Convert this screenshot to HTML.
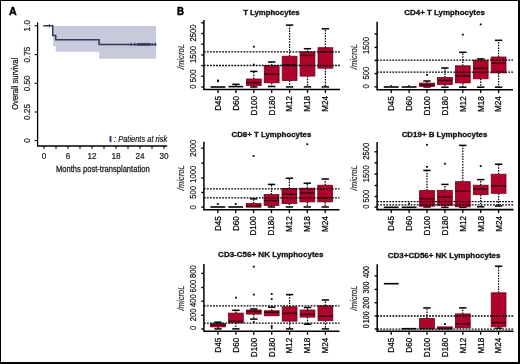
<!DOCTYPE html>
<html><head><meta charset="utf-8"><style>
html,body{margin:0;padding:0;background:#fff;}
svg{display:block;will-change:transform;}
text{font-family:"Liberation Sans", sans-serif;}
</style></head><body>
<svg width="520" height="364" viewBox="0 0 520 364" font-family='"Liberation Sans", sans-serif'>
<rect x="0" y="0" width="520" height="364" fill="#fff"/>
<text x="8.9" y="14.7" font-size="10.8" font-weight="bold" textLength="7.7" lengthAdjust="spacingAndGlyphs" stroke="#000" stroke-width="0.45">A</text>
<path d="M53,25.9 H156 V58.8 H99.2 V51.8 H55.7 V46 H53 Z" fill="#c9c9dc"/>
<path d="M37.6,22.6 V146 H167.2" fill="none" stroke="#000" stroke-width="1.3"/>
<path d="M34.6,25.7 H37.6" stroke="#000" stroke-width="1.1"/>
<text x="30.4" y="25.7" font-size="8.2" text-anchor="middle" fill="#222" stroke="#222" stroke-width="0.22" transform="rotate(-90 30.4 25.7)">1.0</text>
<path d="M34.6,54.6 H37.6" stroke="#000" stroke-width="1.1"/>
<text x="30.4" y="54.6" font-size="8.2" text-anchor="middle" fill="#222" stroke="#222" stroke-width="0.22" transform="rotate(-90 30.4 54.6)">0.75</text>
<path d="M34.6,83.3 H37.6" stroke="#000" stroke-width="1.1"/>
<text x="30.4" y="83.3" font-size="8.2" text-anchor="middle" fill="#222" stroke="#222" stroke-width="0.22" transform="rotate(-90 30.4 83.3)">0.50</text>
<path d="M34.6,112.0 H37.6" stroke="#000" stroke-width="1.1"/>
<text x="30.4" y="112.0" font-size="8.2" text-anchor="middle" fill="#222" stroke="#222" stroke-width="0.22" transform="rotate(-90 30.4 112.0)">0.25</text>
<path d="M34.6,140.5 H37.6" stroke="#000" stroke-width="1.1"/>
<text x="30.4" y="140.5" font-size="8.2" text-anchor="middle" fill="#222" stroke="#222" stroke-width="0.22" transform="rotate(-90 30.4 140.5)">0</text>
<path d="M44,146 V148.8" stroke="#000" stroke-width="1.1"/>
<path d="M56,146 V148.8" stroke="#000" stroke-width="1.1"/>
<path d="M68,146 V148.8" stroke="#000" stroke-width="1.1"/>
<path d="M80,146 V148.8" stroke="#000" stroke-width="1.1"/>
<path d="M92,146 V148.8" stroke="#000" stroke-width="1.1"/>
<path d="M104,146 V148.8" stroke="#000" stroke-width="1.1"/>
<path d="M116,146 V148.8" stroke="#000" stroke-width="1.1"/>
<path d="M128,146 V148.8" stroke="#000" stroke-width="1.1"/>
<path d="M140,146 V148.8" stroke="#000" stroke-width="1.1"/>
<path d="M152,146 V148.8" stroke="#000" stroke-width="1.1"/>
<path d="M164,146 V148.8" stroke="#000" stroke-width="1.1"/>
<text x="44" y="158.8" font-size="8.2" text-anchor="middle" fill="#222" stroke="#222" stroke-width="0.22">0</text>
<text x="68" y="158.8" font-size="8.2" text-anchor="middle" fill="#222" stroke="#222" stroke-width="0.22">6</text>
<text x="92" y="158.8" font-size="8.2" text-anchor="middle" fill="#222" stroke="#222" stroke-width="0.22">12</text>
<text x="116" y="158.8" font-size="8.2" text-anchor="middle" fill="#222" stroke="#222" stroke-width="0.22">18</text>
<text x="140" y="158.8" font-size="8.2" text-anchor="middle" fill="#222" stroke="#222" stroke-width="0.22">24</text>
<text x="164" y="158.8" font-size="8.2" text-anchor="middle" fill="#222" stroke="#222" stroke-width="0.22">30</text>
<text x="102.8" y="171.6" font-size="9.4" text-anchor="middle" fill="#222" stroke="#222" stroke-width="0.3" textLength="93.8" lengthAdjust="spacingAndGlyphs">Months post-transplantation</text>
<text x="18.3" y="83.8" font-size="9.4" text-anchor="middle" fill="#222" stroke="#222" stroke-width="0.3" textLength="52.0" lengthAdjust="spacingAndGlyphs" transform="rotate(-90 18.3 83.8)">Overall survival</text>
<path d="M43.2,25.7 H52.7 V35.4 H55.7 V39.8 H99.1 V44.4 H156.4" fill="none" stroke="#2d3a5c" stroke-width="1.5"/>
<path d="M49.4,23.9 V27.5" stroke="#2d3a5c" stroke-width="0.9"/>
<path d="M131,42.6 V46.2" stroke="#2d3a5c" stroke-width="0.9"/>
<path d="M134.8,42.6 V46.2" stroke="#2d3a5c" stroke-width="0.9"/>
<path d="M155.6,42.6 V46.2" stroke="#2d3a5c" stroke-width="0.9"/>
<path d="M137,44.4 H150.5" stroke="#2d3a5c" stroke-width="2.6"/>
<path d="M152.3,43.0 V45.8" stroke="#2d3a5c" stroke-width="0.8"/>
<rect x="109.6" y="136.0" width="1.8" height="6.2" fill="#24325e"/>
<text x="114" y="141.8" font-size="8.3" text-anchor="start" font-style="italic" fill="#222" stroke="#222" stroke-width="0.22" textLength="53.2" lengthAdjust="spacingAndGlyphs">: Patients at risk</text>
<text x="177.1" y="14.8" font-size="10.8" text-anchor="start" font-weight="bold" stroke="#000" stroke-width="0.45" textLength="7.0" lengthAdjust="spacingAndGlyphs">B</text>
<text x="271.4" y="15.2" font-size="7.9" text-anchor="middle" font-weight="bold" fill="#111" stroke="#111" stroke-width="0.3" textLength="56.5" lengthAdjust="spacingAndGlyphs">T Lymphocytes</text>
<path d="M203.9,20.0 V89.5" fill="none" stroke="#000" stroke-width="1.5"/>
<path d="M203.20000000000002,89.5 H340" fill="none" stroke="#000" stroke-width="1.6"/>
<path d="M201.3,87.0 H203.9" stroke="#000" stroke-width="1.4"/>
<text x="196.1" y="86.5" font-size="8.5" text-anchor="middle" fill="#111" stroke="#111" stroke-width="0.22" textLength="4.25" lengthAdjust="spacingAndGlyphs" transform="rotate(-90 196.1 86.5)">0</text>
<path d="M201.3,76.3 H203.9" stroke="#000" stroke-width="1.4"/>
<text x="196.1" y="75.8" font-size="8.5" text-anchor="middle" fill="#111" stroke="#111" stroke-width="0.22" textLength="12.75" lengthAdjust="spacingAndGlyphs" transform="rotate(-90 196.1 75.8)">500</text>
<path d="M201.3,65.6 H203.9" stroke="#000" stroke-width="1.4"/>
<path d="M201.3,54.9 H203.9" stroke="#000" stroke-width="1.4"/>
<text x="196.1" y="54.4" font-size="8.5" text-anchor="middle" fill="#111" stroke="#111" stroke-width="0.22" textLength="17.0" lengthAdjust="spacingAndGlyphs" transform="rotate(-90 196.1 54.4)">1500</text>
<path d="M201.3,44.2 H203.9" stroke="#000" stroke-width="1.4"/>
<path d="M201.3,33.5 H203.9" stroke="#000" stroke-width="1.4"/>
<text x="196.1" y="33.0" font-size="8.5" text-anchor="middle" fill="#111" stroke="#111" stroke-width="0.22" textLength="17.0" lengthAdjust="spacingAndGlyphs" transform="rotate(-90 196.1 33.0)">2500</text>
<path d="M201.3,22.8 H203.9" stroke="#000" stroke-width="1.4"/>
<text x="183.9" y="56.6" font-size="8.4" text-anchor="middle" font-style="italic" fill="#333" stroke="#333" stroke-width="0.22" textLength="25.2" lengthAdjust="spacingAndGlyphs" transform="rotate(-90 183.9 56.6)">/microL</text>
<path d="M218.0,89.5 V92.9" stroke="#000" stroke-width="1.3"/>
<text x="220.9" y="95.9" font-size="8.6" text-anchor="end" stroke="#000" stroke-width="0.22" textLength="14.95" lengthAdjust="spacingAndGlyphs" transform="rotate(-90 220.9 95.9)">D45</text>
<path d="M235.9,89.5 V92.9" stroke="#000" stroke-width="1.3"/>
<text x="238.8" y="95.9" font-size="8.6" text-anchor="end" stroke="#000" stroke-width="0.22" textLength="14.95" lengthAdjust="spacingAndGlyphs" transform="rotate(-90 238.8 95.9)">D60</text>
<path d="M253.8,89.5 V92.9" stroke="#000" stroke-width="1.3"/>
<text x="256.7" y="95.9" font-size="8.6" text-anchor="end" stroke="#000" stroke-width="0.22" textLength="19.48" lengthAdjust="spacingAndGlyphs" transform="rotate(-90 256.7 95.9)">D100</text>
<path d="M271.7,89.5 V92.9" stroke="#000" stroke-width="1.3"/>
<text x="274.59999999999997" y="95.9" font-size="8.6" text-anchor="end" stroke="#000" stroke-width="0.22" textLength="19.48" lengthAdjust="spacingAndGlyphs" transform="rotate(-90 274.59999999999997 95.9)">D180</text>
<path d="M289.6,89.5 V92.9" stroke="#000" stroke-width="1.3"/>
<text x="292.5" y="95.9" font-size="8.6" text-anchor="end" stroke="#000" stroke-width="0.22" textLength="15.85" lengthAdjust="spacingAndGlyphs" transform="rotate(-90 292.5 95.9)">M12</text>
<path d="M307.5,89.5 V92.9" stroke="#000" stroke-width="1.3"/>
<text x="310.4" y="95.9" font-size="8.6" text-anchor="end" stroke="#000" stroke-width="0.22" textLength="15.85" lengthAdjust="spacingAndGlyphs" transform="rotate(-90 310.4 95.9)">M18</text>
<path d="M325.4,89.5 V92.9" stroke="#000" stroke-width="1.3"/>
<text x="328.29999999999995" y="95.9" font-size="8.6" text-anchor="end" stroke="#000" stroke-width="0.22" textLength="15.85" lengthAdjust="spacingAndGlyphs" transform="rotate(-90 328.29999999999995 95.9)">M24</text>
<path d="M210.6,87.0 H225.4" stroke="#000" stroke-width="1.6"/>
<path d="M235.9,86.0 V84.3" stroke="#000" stroke-width="1.25" stroke-dasharray="1.5,1.2"/>
<path d="M232.20000000000002,84.3 H239.6" stroke="#000" stroke-width="1.5"/>
<path d="M228.5,86.6 H243.3" stroke="#000" stroke-width="1.6"/>
<path d="M253.8,79.0 V71.4" stroke="#000" stroke-width="1.25" stroke-dasharray="1.5,1.2"/>
<path d="M250.10000000000002,71.4 H257.5" stroke="#000" stroke-width="1.5"/>
<path d="M253.8,85.5 V87.0" stroke="#000" stroke-width="1.25" stroke-dasharray="1.5,1.2"/>
<path d="M250.10000000000002,87.0 H257.5" stroke="#000" stroke-width="1.5"/>
<rect x="246.4" y="79.0" width="14.8" height="6.5" fill="#ae032b" stroke="#6e0419" stroke-width="0.8"/>
<path d="M246.4,82.6 H261.2" stroke="#3c000e" stroke-width="1.5"/>
<path d="M271.7,65.5 V62.0" stroke="#000" stroke-width="1.25" stroke-dasharray="1.5,1.2"/>
<path d="M268.0,62.0 H275.4" stroke="#000" stroke-width="1.5"/>
<path d="M271.7,82.8 V86.5" stroke="#000" stroke-width="1.25" stroke-dasharray="1.5,1.2"/>
<path d="M268.0,86.5 H275.4" stroke="#000" stroke-width="1.5"/>
<rect x="264.3" y="65.5" width="14.8" height="17.299999999999997" fill="#ae032b" stroke="#6e0419" stroke-width="0.8"/>
<path d="M264.3,74.1 H279.09999999999997" stroke="#3c000e" stroke-width="1.5"/>
<path d="M289.6,56.2 V25.1" stroke="#000" stroke-width="1.25" stroke-dasharray="1.5,1.2"/>
<path d="M285.90000000000003,25.1 H293.3" stroke="#000" stroke-width="1.5"/>
<path d="M289.6,80.5 V86.9" stroke="#000" stroke-width="1.25" stroke-dasharray="1.5,1.2"/>
<path d="M285.90000000000003,86.9 H293.3" stroke="#000" stroke-width="1.5"/>
<rect x="282.20000000000005" y="56.2" width="14.8" height="24.299999999999997" fill="#ae032b" stroke="#6e0419" stroke-width="0.8"/>
<path d="M282.20000000000005,64.9 H297.0" stroke="#3c000e" stroke-width="1.5"/>
<path d="M307.5,51.9 V48.7" stroke="#000" stroke-width="1.25" stroke-dasharray="1.5,1.2"/>
<path d="M303.8,48.7 H311.2" stroke="#000" stroke-width="1.5"/>
<path d="M307.5,76.1 V86.9" stroke="#000" stroke-width="1.25" stroke-dasharray="1.5,1.2"/>
<path d="M303.8,86.9 H311.2" stroke="#000" stroke-width="1.5"/>
<rect x="300.1" y="51.9" width="14.8" height="24.199999999999996" fill="#ae032b" stroke="#6e0419" stroke-width="0.8"/>
<path d="M300.1,55.4 H314.9" stroke="#3c000e" stroke-width="1.5"/>
<path d="M325.4,47.7 V28.8" stroke="#000" stroke-width="1.25" stroke-dasharray="1.5,1.2"/>
<path d="M321.7,28.8 H329.09999999999997" stroke="#000" stroke-width="1.5"/>
<path d="M325.4,68.2 V86.9" stroke="#000" stroke-width="1.25" stroke-dasharray="1.5,1.2"/>
<path d="M321.7,86.9 H329.09999999999997" stroke="#000" stroke-width="1.5"/>
<rect x="318.0" y="47.7" width="14.8" height="20.5" fill="#ae032b" stroke="#6e0419" stroke-width="0.8"/>
<path d="M318.0,51.7 H332.79999999999995" stroke="#3c000e" stroke-width="1.5"/>
<rect x="217.1" y="79.6" width="1.8" height="1.8" fill="#000"/>
<rect x="217.1" y="80.39999999999999" width="1.8" height="1.8" fill="#000"/>
<rect x="252.9" y="63.699999999999996" width="1.8" height="1.8" fill="#000"/>
<rect x="252.9" y="45.800000000000004" width="1.8" height="1.8" fill="#000"/>
<path d="M203.9,51.9 H340" stroke="#000" stroke-width="1.3" stroke-dasharray="1.8,1.25"/>
<path d="M203.9,65.5 H340" stroke="#000" stroke-width="1.3" stroke-dasharray="1.8,1.25"/>
<text x="444.55" y="15.2" font-size="7.9" text-anchor="middle" font-weight="bold" fill="#111" stroke="#111" stroke-width="0.3" textLength="80.5" lengthAdjust="spacingAndGlyphs">CD4+ T Lymphocytes</text>
<path d="M377.1,21.8 V89.7" fill="none" stroke="#000" stroke-width="1.5"/>
<path d="M376.40000000000003,89.7 H513" fill="none" stroke="#000" stroke-width="1.6"/>
<path d="M374.5,86.8 H377.1" stroke="#000" stroke-width="1.4"/>
<text x="369.3" y="86.3" font-size="8.5" text-anchor="middle" fill="#111" stroke="#111" stroke-width="0.22" textLength="4.25" lengthAdjust="spacingAndGlyphs" transform="rotate(-90 369.3 86.3)">0</text>
<path d="M374.5,73.6 H377.1" stroke="#000" stroke-width="1.4"/>
<text x="369.3" y="73.1" font-size="8.5" text-anchor="middle" fill="#111" stroke="#111" stroke-width="0.22" textLength="12.75" lengthAdjust="spacingAndGlyphs" transform="rotate(-90 369.3 73.1)">500</text>
<path d="M374.5,60.4 H377.1" stroke="#000" stroke-width="1.4"/>
<path d="M374.5,47.4 H377.1" stroke="#000" stroke-width="1.4"/>
<text x="369.3" y="45.6" font-size="8.5" text-anchor="middle" fill="#111" stroke="#111" stroke-width="0.22" textLength="17.0" lengthAdjust="spacingAndGlyphs" transform="rotate(-90 369.3 45.6)">1500</text>
<path d="M374.5,34.0 H377.1" stroke="#000" stroke-width="1.4"/>
<text x="357.1" y="56.6" font-size="8.4" text-anchor="middle" font-style="italic" fill="#333" stroke="#333" stroke-width="0.22" textLength="25.2" lengthAdjust="spacingAndGlyphs" transform="rotate(-90 357.1 56.6)">/microL</text>
<path d="M391.2,89.7 V93.10000000000001" stroke="#000" stroke-width="1.3"/>
<text x="394.09999999999997" y="96.10000000000001" font-size="8.6" text-anchor="end" stroke="#000" stroke-width="0.22" textLength="14.95" lengthAdjust="spacingAndGlyphs" transform="rotate(-90 394.09999999999997 96.10000000000001)">D45</text>
<path d="M409.09999999999997,89.7 V93.10000000000001" stroke="#000" stroke-width="1.3"/>
<text x="411.99999999999994" y="96.10000000000001" font-size="8.6" text-anchor="end" stroke="#000" stroke-width="0.22" textLength="14.95" lengthAdjust="spacingAndGlyphs" transform="rotate(-90 411.99999999999994 96.10000000000001)">D60</text>
<path d="M427.0,89.7 V93.10000000000001" stroke="#000" stroke-width="1.3"/>
<text x="429.9" y="96.10000000000001" font-size="8.6" text-anchor="end" stroke="#000" stroke-width="0.22" textLength="19.48" lengthAdjust="spacingAndGlyphs" transform="rotate(-90 429.9 96.10000000000001)">D100</text>
<path d="M444.9,89.7 V93.10000000000001" stroke="#000" stroke-width="1.3"/>
<text x="447.79999999999995" y="96.10000000000001" font-size="8.6" text-anchor="end" stroke="#000" stroke-width="0.22" textLength="19.48" lengthAdjust="spacingAndGlyphs" transform="rotate(-90 447.79999999999995 96.10000000000001)">D180</text>
<path d="M462.79999999999995,89.7 V93.10000000000001" stroke="#000" stroke-width="1.3"/>
<text x="465.69999999999993" y="96.10000000000001" font-size="8.6" text-anchor="end" stroke="#000" stroke-width="0.22" textLength="15.85" lengthAdjust="spacingAndGlyphs" transform="rotate(-90 465.69999999999993 96.10000000000001)">M12</text>
<path d="M480.7,89.7 V93.10000000000001" stroke="#000" stroke-width="1.3"/>
<text x="483.59999999999997" y="96.10000000000001" font-size="8.6" text-anchor="end" stroke="#000" stroke-width="0.22" textLength="15.85" lengthAdjust="spacingAndGlyphs" transform="rotate(-90 483.59999999999997 96.10000000000001)">M18</text>
<path d="M498.59999999999997,89.7 V93.10000000000001" stroke="#000" stroke-width="1.3"/>
<text x="501.49999999999994" y="96.10000000000001" font-size="8.6" text-anchor="end" stroke="#000" stroke-width="0.22" textLength="15.85" lengthAdjust="spacingAndGlyphs" transform="rotate(-90 501.49999999999994 96.10000000000001)">M24</text>
<path d="M391.2,86.6 V84.8" stroke="#000" stroke-width="1.25" stroke-dasharray="1.5,1.2"/>
<path d="M383.8,87.0 H398.59999999999997" stroke="#000" stroke-width="1.6"/>
<path d="M409.09999999999997,86.6 V84.8" stroke="#000" stroke-width="1.25" stroke-dasharray="1.5,1.2"/>
<path d="M401.7,87.0 H416.49999999999994" stroke="#000" stroke-width="1.6"/>
<path d="M427.0,83.1 V81.0" stroke="#000" stroke-width="1.25" stroke-dasharray="1.5,1.2"/>
<path d="M423.3,81.0 H430.7" stroke="#000" stroke-width="1.5"/>
<path d="M427.0,86.4 V87.0" stroke="#000" stroke-width="1.25" stroke-dasharray="1.5,1.2"/>
<path d="M423.3,87.0 H430.7" stroke="#000" stroke-width="1.5"/>
<rect x="419.6" y="83.1" width="14.8" height="3.3000000000000114" fill="#ae032b" stroke="#6e0419" stroke-width="0.8"/>
<path d="M419.6,85.0 H434.4" stroke="#3c000e" stroke-width="1.5"/>
<path d="M444.9,77.5 V68.0" stroke="#000" stroke-width="1.25" stroke-dasharray="1.5,1.2"/>
<path d="M441.2,68.0 H448.59999999999997" stroke="#000" stroke-width="1.5"/>
<path d="M444.9,84.5 V87.2" stroke="#000" stroke-width="1.25" stroke-dasharray="1.5,1.2"/>
<path d="M441.2,87.2 H448.59999999999997" stroke="#000" stroke-width="1.5"/>
<rect x="437.5" y="77.5" width="14.8" height="7.0" fill="#ae032b" stroke="#6e0419" stroke-width="0.8"/>
<path d="M437.5,80.4 H452.29999999999995" stroke="#3c000e" stroke-width="1.5"/>
<path d="M462.79999999999995,65.8 V52.3" stroke="#000" stroke-width="1.25" stroke-dasharray="1.5,1.2"/>
<path d="M459.09999999999997,52.3 H466.49999999999994" stroke="#000" stroke-width="1.5"/>
<path d="M462.79999999999995,82.9 V87.2" stroke="#000" stroke-width="1.25" stroke-dasharray="1.5,1.2"/>
<path d="M459.09999999999997,87.2 H466.49999999999994" stroke="#000" stroke-width="1.5"/>
<rect x="455.4" y="65.8" width="14.8" height="17.10000000000001" fill="#ae032b" stroke="#6e0419" stroke-width="0.8"/>
<path d="M455.4,75.8 H470.19999999999993" stroke="#3c000e" stroke-width="1.5"/>
<path d="M480.7,60.2 V58.9" stroke="#000" stroke-width="1.25" stroke-dasharray="1.5,1.2"/>
<path d="M477.0,58.9 H484.4" stroke="#000" stroke-width="1.5"/>
<path d="M480.7,78.8 V87.2" stroke="#000" stroke-width="1.25" stroke-dasharray="1.5,1.2"/>
<path d="M477.0,87.2 H484.4" stroke="#000" stroke-width="1.5"/>
<rect x="473.3" y="60.2" width="14.8" height="18.599999999999994" fill="#ae032b" stroke="#6e0419" stroke-width="0.8"/>
<path d="M473.3,68.3 H488.09999999999997" stroke="#3c000e" stroke-width="1.5"/>
<path d="M498.59999999999997,57.0 V40.3" stroke="#000" stroke-width="1.25" stroke-dasharray="1.5,1.2"/>
<path d="M494.9,40.3 H502.29999999999995" stroke="#000" stroke-width="1.5"/>
<path d="M498.59999999999997,72.9 V87.2" stroke="#000" stroke-width="1.25" stroke-dasharray="1.5,1.2"/>
<path d="M494.9,87.2 H502.29999999999995" stroke="#000" stroke-width="1.5"/>
<rect x="491.2" y="57.0" width="14.8" height="15.900000000000006" fill="#ae032b" stroke="#6e0419" stroke-width="0.8"/>
<path d="M491.2,63.3 H505.99999999999994" stroke="#3c000e" stroke-width="1.5"/>
<rect x="426.1" y="73.89999999999999" width="1.8" height="1.8" fill="#000"/>
<rect x="461.9" y="33.800000000000004" width="1.8" height="1.8" fill="#000"/>
<rect x="479.8" y="23.5" width="1.8" height="1.8" fill="#000"/>
<path d="M377.1,60.2 H513" stroke="#000" stroke-width="1.3" stroke-dasharray="1.8,1.25"/>
<path d="M377.1,72.1 H513" stroke="#000" stroke-width="1.3" stroke-dasharray="1.8,1.25"/>
<text x="271.4" y="137.1" font-size="7.9" text-anchor="middle" font-weight="bold" fill="#111" stroke="#111" stroke-width="0.3" textLength="79.8" lengthAdjust="spacingAndGlyphs">CD8+ T Lymphocytes</text>
<path d="M203.9,141.8 V209.7" fill="none" stroke="#000" stroke-width="1.5"/>
<path d="M203.20000000000002,209.7 H339.5" fill="none" stroke="#000" stroke-width="1.6"/>
<path d="M201.3,207.1 H203.9" stroke="#000" stroke-width="1.4"/>
<text x="196.1" y="207.3" font-size="8.5" text-anchor="middle" fill="#111" stroke="#111" stroke-width="0.22" textLength="4.25" lengthAdjust="spacingAndGlyphs" transform="rotate(-90 196.1 207.3)">0</text>
<path d="M201.3,192.5 H203.9" stroke="#000" stroke-width="1.4"/>
<text x="196.1" y="192.3" font-size="8.5" text-anchor="middle" fill="#111" stroke="#111" stroke-width="0.22" textLength="12.75" lengthAdjust="spacingAndGlyphs" transform="rotate(-90 196.1 192.3)">500</text>
<path d="M201.3,177.9 H203.9" stroke="#000" stroke-width="1.4"/>
<text x="196.1" y="174.2" font-size="8.5" text-anchor="middle" fill="#111" stroke="#111" stroke-width="0.22" textLength="17.0" lengthAdjust="spacingAndGlyphs" transform="rotate(-90 196.1 174.2)">1000</text>
<path d="M201.3,163.1 H203.9" stroke="#000" stroke-width="1.4"/>
<path d="M201.3,148.2 H203.9" stroke="#000" stroke-width="1.4"/>
<text x="196.1" y="148.2" font-size="8.5" text-anchor="middle" fill="#111" stroke="#111" stroke-width="0.22" textLength="17.0" lengthAdjust="spacingAndGlyphs" transform="rotate(-90 196.1 148.2)">2000</text>
<text x="183.9" y="177.8" font-size="8.4" text-anchor="middle" font-style="italic" fill="#333" stroke="#333" stroke-width="0.22" textLength="25.2" lengthAdjust="spacingAndGlyphs" transform="rotate(-90 183.9 177.8)">/microL</text>
<path d="M217.8,209.7 V213.1" stroke="#000" stroke-width="1.3"/>
<text x="220.70000000000002" y="216.1" font-size="8.6" text-anchor="end" stroke="#000" stroke-width="0.22" textLength="14.95" lengthAdjust="spacingAndGlyphs" transform="rotate(-90 220.70000000000002 216.1)">D45</text>
<path d="M235.70000000000002,209.7 V213.1" stroke="#000" stroke-width="1.3"/>
<text x="238.60000000000002" y="216.1" font-size="8.6" text-anchor="end" stroke="#000" stroke-width="0.22" textLength="14.95" lengthAdjust="spacingAndGlyphs" transform="rotate(-90 238.60000000000002 216.1)">D60</text>
<path d="M253.60000000000002,209.7 V213.1" stroke="#000" stroke-width="1.3"/>
<text x="256.5" y="216.1" font-size="8.6" text-anchor="end" stroke="#000" stroke-width="0.22" textLength="19.48" lengthAdjust="spacingAndGlyphs" transform="rotate(-90 256.5 216.1)">D100</text>
<path d="M271.5,209.7 V213.1" stroke="#000" stroke-width="1.3"/>
<text x="274.4" y="216.1" font-size="8.6" text-anchor="end" stroke="#000" stroke-width="0.22" textLength="19.48" lengthAdjust="spacingAndGlyphs" transform="rotate(-90 274.4 216.1)">D180</text>
<path d="M289.4,209.7 V213.1" stroke="#000" stroke-width="1.3"/>
<text x="292.29999999999995" y="216.1" font-size="8.6" text-anchor="end" stroke="#000" stroke-width="0.22" textLength="15.85" lengthAdjust="spacingAndGlyphs" transform="rotate(-90 292.29999999999995 216.1)">M12</text>
<path d="M307.3,209.7 V213.1" stroke="#000" stroke-width="1.3"/>
<text x="310.2" y="216.1" font-size="8.6" text-anchor="end" stroke="#000" stroke-width="0.22" textLength="15.85" lengthAdjust="spacingAndGlyphs" transform="rotate(-90 310.2 216.1)">M18</text>
<path d="M325.2,209.7 V213.1" stroke="#000" stroke-width="1.3"/>
<text x="328.09999999999997" y="216.1" font-size="8.6" text-anchor="end" stroke="#000" stroke-width="0.22" textLength="15.85" lengthAdjust="spacingAndGlyphs" transform="rotate(-90 328.09999999999997 216.1)">M24</text>
<path d="M210.4,207.0 H225.20000000000002" stroke="#000" stroke-width="1.6"/>
<path d="M228.3,207.0 H243.10000000000002" stroke="#000" stroke-width="1.6"/>
<path d="M253.60000000000002,203.5 V198.8" stroke="#000" stroke-width="1.25" stroke-dasharray="1.5,1.2"/>
<path d="M249.90000000000003,198.8 H257.3" stroke="#000" stroke-width="1.5"/>
<rect x="246.20000000000002" y="203.5" width="14.8" height="3.6999999999999886" fill="#ae032b" stroke="#6e0419" stroke-width="0.8"/>
<path d="M246.20000000000002,206.0 H261.0" stroke="#3c000e" stroke-width="1.5"/>
<path d="M271.5,194.6 V184.4" stroke="#000" stroke-width="1.25" stroke-dasharray="1.5,1.2"/>
<path d="M267.8,184.4 H275.2" stroke="#000" stroke-width="1.5"/>
<path d="M271.5,205.5 V207.0" stroke="#000" stroke-width="1.25" stroke-dasharray="1.5,1.2"/>
<path d="M267.8,207.0 H275.2" stroke="#000" stroke-width="1.5"/>
<rect x="264.1" y="194.6" width="14.8" height="10.900000000000006" fill="#ae032b" stroke="#6e0419" stroke-width="0.8"/>
<path d="M264.1,200.6 H278.9" stroke="#3c000e" stroke-width="1.5"/>
<path d="M289.4,188.6 V178.2" stroke="#000" stroke-width="1.25" stroke-dasharray="1.5,1.2"/>
<path d="M285.7,178.2 H293.09999999999997" stroke="#000" stroke-width="1.5"/>
<path d="M289.4,203.5 V207.0" stroke="#000" stroke-width="1.25" stroke-dasharray="1.5,1.2"/>
<path d="M285.7,207.0 H293.09999999999997" stroke="#000" stroke-width="1.5"/>
<rect x="282.0" y="188.6" width="14.8" height="14.900000000000006" fill="#ae032b" stroke="#6e0419" stroke-width="0.8"/>
<path d="M282.0,194.2 H296.79999999999995" stroke="#3c000e" stroke-width="1.5"/>
<path d="M307.3,188.2 V183.2" stroke="#000" stroke-width="1.25" stroke-dasharray="1.5,1.2"/>
<path d="M303.6,183.2 H311.0" stroke="#000" stroke-width="1.5"/>
<path d="M307.3,201.9 V207.0" stroke="#000" stroke-width="1.25" stroke-dasharray="1.5,1.2"/>
<path d="M303.6,207.0 H311.0" stroke="#000" stroke-width="1.5"/>
<rect x="299.90000000000003" y="188.2" width="14.8" height="13.700000000000017" fill="#ae032b" stroke="#6e0419" stroke-width="0.8"/>
<path d="M299.90000000000003,193.0 H314.7" stroke="#3c000e" stroke-width="1.5"/>
<path d="M325.2,185.2 V179.0" stroke="#000" stroke-width="1.25" stroke-dasharray="1.5,1.2"/>
<path d="M321.5,179.0 H328.9" stroke="#000" stroke-width="1.5"/>
<path d="M325.2,201.9 V207.0" stroke="#000" stroke-width="1.25" stroke-dasharray="1.5,1.2"/>
<path d="M321.5,207.0 H328.9" stroke="#000" stroke-width="1.5"/>
<rect x="317.8" y="185.2" width="14.8" height="16.700000000000017" fill="#ae032b" stroke="#6e0419" stroke-width="0.8"/>
<path d="M317.8,197.7 H332.59999999999997" stroke="#3c000e" stroke-width="1.5"/>
<rect x="216.9" y="203.2" width="1.8" height="1.8" fill="#000"/>
<rect x="234.8" y="203.1" width="1.8" height="1.8" fill="#000"/>
<rect x="252.70000000000002" y="155.0" width="1.8" height="1.8" fill="#000"/>
<rect x="306.40000000000003" y="143.29999999999998" width="1.8" height="1.8" fill="#000"/>
<path d="M203.9,188.8 H339.5" stroke="#000" stroke-width="1.3" stroke-dasharray="1.8,1.25"/>
<path d="M203.9,197.8 H339.5" stroke="#000" stroke-width="1.3" stroke-dasharray="1.8,1.25"/>
<text x="444.5" y="137.1" font-size="7.9" text-anchor="middle" font-weight="bold" fill="#111" stroke="#111" stroke-width="0.3" textLength="85.7" lengthAdjust="spacingAndGlyphs">CD19+ B Lymphocytes</text>
<path d="M377.1,142.1 V209.6" fill="none" stroke="#000" stroke-width="1.5"/>
<path d="M376.40000000000003,209.6 H513.5" fill="none" stroke="#000" stroke-width="1.6"/>
<path d="M374.5,207.1 H377.1" stroke="#000" stroke-width="1.4"/>
<text x="369.3" y="206.6" font-size="8.5" text-anchor="middle" fill="#111" stroke="#111" stroke-width="0.22" textLength="4.25" lengthAdjust="spacingAndGlyphs" transform="rotate(-90 369.3 206.6)">0</text>
<path d="M374.5,196.5 H377.1" stroke="#000" stroke-width="1.4"/>
<text x="369.3" y="196.0" font-size="8.5" text-anchor="middle" fill="#111" stroke="#111" stroke-width="0.22" textLength="12.75" lengthAdjust="spacingAndGlyphs" transform="rotate(-90 369.3 196.0)">500</text>
<path d="M374.5,185.5 H377.1" stroke="#000" stroke-width="1.4"/>
<path d="M374.5,174.2 H377.1" stroke="#000" stroke-width="1.4"/>
<text x="369.3" y="173.7" font-size="8.5" text-anchor="middle" fill="#111" stroke="#111" stroke-width="0.22" textLength="17.0" lengthAdjust="spacingAndGlyphs" transform="rotate(-90 369.3 173.7)">1500</text>
<path d="M374.5,162.9 H377.1" stroke="#000" stroke-width="1.4"/>
<path d="M374.5,151.8 H377.1" stroke="#000" stroke-width="1.4"/>
<text x="369.3" y="151.3" font-size="8.5" text-anchor="middle" fill="#111" stroke="#111" stroke-width="0.22" textLength="17.0" lengthAdjust="spacingAndGlyphs" transform="rotate(-90 369.3 151.3)">2500</text>
<text x="357.1" y="177.8" font-size="8.4" text-anchor="middle" font-style="italic" fill="#333" stroke="#333" stroke-width="0.22" textLength="25.2" lengthAdjust="spacingAndGlyphs" transform="rotate(-90 357.1 177.8)">/microL</text>
<path d="M391.2,209.6 V213.0" stroke="#000" stroke-width="1.3"/>
<text x="394.09999999999997" y="216.0" font-size="8.6" text-anchor="end" stroke="#000" stroke-width="0.22" textLength="14.95" lengthAdjust="spacingAndGlyphs" transform="rotate(-90 394.09999999999997 216.0)">D45</text>
<path d="M409.09999999999997,209.6 V213.0" stroke="#000" stroke-width="1.3"/>
<text x="411.99999999999994" y="216.0" font-size="8.6" text-anchor="end" stroke="#000" stroke-width="0.22" textLength="14.95" lengthAdjust="spacingAndGlyphs" transform="rotate(-90 411.99999999999994 216.0)">D60</text>
<path d="M427.0,209.6 V213.0" stroke="#000" stroke-width="1.3"/>
<text x="429.9" y="216.0" font-size="8.6" text-anchor="end" stroke="#000" stroke-width="0.22" textLength="19.48" lengthAdjust="spacingAndGlyphs" transform="rotate(-90 429.9 216.0)">D100</text>
<path d="M444.9,209.6 V213.0" stroke="#000" stroke-width="1.3"/>
<text x="447.79999999999995" y="216.0" font-size="8.6" text-anchor="end" stroke="#000" stroke-width="0.22" textLength="19.48" lengthAdjust="spacingAndGlyphs" transform="rotate(-90 447.79999999999995 216.0)">D180</text>
<path d="M462.79999999999995,209.6 V213.0" stroke="#000" stroke-width="1.3"/>
<text x="465.69999999999993" y="216.0" font-size="8.6" text-anchor="end" stroke="#000" stroke-width="0.22" textLength="15.85" lengthAdjust="spacingAndGlyphs" transform="rotate(-90 465.69999999999993 216.0)">M12</text>
<path d="M480.7,209.6 V213.0" stroke="#000" stroke-width="1.3"/>
<text x="483.59999999999997" y="216.0" font-size="8.6" text-anchor="end" stroke="#000" stroke-width="0.22" textLength="15.85" lengthAdjust="spacingAndGlyphs" transform="rotate(-90 483.59999999999997 216.0)">M18</text>
<path d="M498.59999999999997,209.6 V213.0" stroke="#000" stroke-width="1.3"/>
<text x="501.49999999999994" y="216.0" font-size="8.6" text-anchor="end" stroke="#000" stroke-width="0.22" textLength="15.85" lengthAdjust="spacingAndGlyphs" transform="rotate(-90 501.49999999999994 216.0)">M24</text>
<path d="M383.8,207.3 H398.59999999999997" stroke="#000" stroke-width="1.6"/>
<path d="M401.7,207.3 H416.49999999999994" stroke="#000" stroke-width="1.6"/>
<path d="M427.0,190.6 V170.4" stroke="#000" stroke-width="1.25" stroke-dasharray="1.5,1.2"/>
<path d="M423.3,170.4 H430.7" stroke="#000" stroke-width="1.5"/>
<path d="M427.0,206.2 V207.0" stroke="#000" stroke-width="1.25" stroke-dasharray="1.5,1.2"/>
<path d="M423.3,207.0 H430.7" stroke="#000" stroke-width="1.5"/>
<rect x="419.6" y="190.6" width="14.8" height="15.599999999999994" fill="#ae032b" stroke="#6e0419" stroke-width="0.8"/>
<path d="M419.6,198.7 H434.4" stroke="#3c000e" stroke-width="1.5"/>
<path d="M444.9,190.3 V184.4" stroke="#000" stroke-width="1.25" stroke-dasharray="1.5,1.2"/>
<path d="M441.2,184.4 H448.59999999999997" stroke="#000" stroke-width="1.5"/>
<path d="M444.9,205.4 V207.3" stroke="#000" stroke-width="1.25" stroke-dasharray="1.5,1.2"/>
<path d="M441.2,207.3 H448.59999999999997" stroke="#000" stroke-width="1.5"/>
<rect x="437.5" y="190.3" width="14.8" height="15.099999999999994" fill="#ae032b" stroke="#6e0419" stroke-width="0.8"/>
<path d="M437.5,197.1 H452.29999999999995" stroke="#3c000e" stroke-width="1.5"/>
<path d="M462.79999999999995,181.7 V145.4" stroke="#000" stroke-width="1.25" stroke-dasharray="1.5,1.2"/>
<path d="M459.09999999999997,145.4 H466.49999999999994" stroke="#000" stroke-width="1.5"/>
<path d="M462.79999999999995,206.8 V207.3" stroke="#000" stroke-width="1.25" stroke-dasharray="1.5,1.2"/>
<path d="M459.09999999999997,207.3 H466.49999999999994" stroke="#000" stroke-width="1.5"/>
<rect x="455.4" y="181.7" width="14.8" height="25.100000000000023" fill="#ae032b" stroke="#6e0419" stroke-width="0.8"/>
<path d="M455.4,191.2 H470.19999999999993" stroke="#3c000e" stroke-width="1.5"/>
<path d="M480.7,185.2 V179.6" stroke="#000" stroke-width="1.25" stroke-dasharray="1.5,1.2"/>
<path d="M477.0,179.6 H484.4" stroke="#000" stroke-width="1.5"/>
<path d="M480.7,194.7 V206.8" stroke="#000" stroke-width="1.25" stroke-dasharray="1.5,1.2"/>
<path d="M477.0,206.8 H484.4" stroke="#000" stroke-width="1.5"/>
<rect x="473.3" y="185.2" width="14.8" height="9.5" fill="#ae032b" stroke="#6e0419" stroke-width="0.8"/>
<path d="M473.3,189.0 H488.09999999999997" stroke="#3c000e" stroke-width="1.5"/>
<path d="M498.59999999999997,174.2 V164.2" stroke="#000" stroke-width="1.25" stroke-dasharray="1.5,1.2"/>
<path d="M494.9,164.2 H502.29999999999995" stroke="#000" stroke-width="1.5"/>
<path d="M498.59999999999997,193.3 V206.0" stroke="#000" stroke-width="1.25" stroke-dasharray="1.5,1.2"/>
<path d="M494.9,206.0 H502.29999999999995" stroke="#000" stroke-width="1.5"/>
<rect x="491.2" y="174.2" width="14.8" height="19.100000000000023" fill="#ae032b" stroke="#6e0419" stroke-width="0.8"/>
<path d="M491.2,185.8 H505.99999999999994" stroke="#3c000e" stroke-width="1.5"/>
<rect x="408.2" y="202.7" width="1.8" height="1.8" fill="#000"/>
<rect x="426.1" y="166.0" width="1.8" height="1.8" fill="#000"/>
<rect x="426.1" y="143.9" width="1.8" height="1.8" fill="#000"/>
<rect x="444.0" y="162.79999999999998" width="1.8" height="1.8" fill="#000"/>
<rect x="479.8" y="165.2" width="1.8" height="1.8" fill="#000"/>
<path d="M377.1,201.6 H513.5" stroke="#000" stroke-width="1.3" stroke-dasharray="1.8,1.25"/>
<path d="M377.1,204.8 H513.5" stroke="#000" stroke-width="1.3" stroke-dasharray="1.8,1.25"/>
<text x="270.8" y="257.3" font-size="7.9" text-anchor="middle" font-weight="bold" fill="#111" stroke="#111" stroke-width="0.3" textLength="105.4" lengthAdjust="spacingAndGlyphs">CD3-C56+ NK Lymphocytes</text>
<path d="M203.9,264.0 V331.3" fill="none" stroke="#000" stroke-width="1.5"/>
<path d="M203.20000000000002,331.3 H339.5" fill="none" stroke="#000" stroke-width="1.6"/>
<path d="M201.3,329.0 H203.9" stroke="#000" stroke-width="1.4"/>
<text x="196.1" y="327.9" font-size="8.5" text-anchor="middle" fill="#111" stroke="#111" stroke-width="0.22" textLength="4.25" lengthAdjust="spacingAndGlyphs" transform="rotate(-90 196.1 327.9)">0</text>
<path d="M201.3,315.3 H203.9" stroke="#000" stroke-width="1.4"/>
<text x="196.1" y="314.8" font-size="8.5" text-anchor="middle" fill="#111" stroke="#111" stroke-width="0.22" textLength="12.75" lengthAdjust="spacingAndGlyphs" transform="rotate(-90 196.1 314.8)">200</text>
<path d="M201.3,301.2 H203.9" stroke="#000" stroke-width="1.4"/>
<text x="196.1" y="300.5" font-size="8.5" text-anchor="middle" fill="#111" stroke="#111" stroke-width="0.22" textLength="12.75" lengthAdjust="spacingAndGlyphs" transform="rotate(-90 196.1 300.5)">400</text>
<path d="M201.3,287.5 H203.9" stroke="#000" stroke-width="1.4"/>
<text x="196.1" y="286.0" font-size="8.5" text-anchor="middle" fill="#111" stroke="#111" stroke-width="0.22" textLength="12.75" lengthAdjust="spacingAndGlyphs" transform="rotate(-90 196.1 286.0)">600</text>
<path d="M201.3,273.4 H203.9" stroke="#000" stroke-width="1.4"/>
<text x="196.1" y="271.6" font-size="8.5" text-anchor="middle" fill="#111" stroke="#111" stroke-width="0.22" textLength="12.75" lengthAdjust="spacingAndGlyphs" transform="rotate(-90 196.1 271.6)">800</text>
<text x="183.9" y="298.0" font-size="8.4" text-anchor="middle" font-style="italic" fill="#333" stroke="#333" stroke-width="0.22" textLength="25.2" lengthAdjust="spacingAndGlyphs" transform="rotate(-90 183.9 298.0)">/microL</text>
<path d="M218.0,331.3 V334.7" stroke="#000" stroke-width="1.3"/>
<text x="220.9" y="337.7" font-size="8.6" text-anchor="end" stroke="#000" stroke-width="0.22" textLength="14.95" lengthAdjust="spacingAndGlyphs" transform="rotate(-90 220.9 337.7)">D45</text>
<path d="M235.9,331.3 V334.7" stroke="#000" stroke-width="1.3"/>
<text x="238.8" y="337.7" font-size="8.6" text-anchor="end" stroke="#000" stroke-width="0.22" textLength="14.95" lengthAdjust="spacingAndGlyphs" transform="rotate(-90 238.8 337.7)">D60</text>
<path d="M253.8,331.3 V334.7" stroke="#000" stroke-width="1.3"/>
<text x="256.7" y="337.7" font-size="8.6" text-anchor="end" stroke="#000" stroke-width="0.22" textLength="19.48" lengthAdjust="spacingAndGlyphs" transform="rotate(-90 256.7 337.7)">D100</text>
<path d="M271.7,331.3 V334.7" stroke="#000" stroke-width="1.3"/>
<text x="274.59999999999997" y="337.7" font-size="8.6" text-anchor="end" stroke="#000" stroke-width="0.22" textLength="19.48" lengthAdjust="spacingAndGlyphs" transform="rotate(-90 274.59999999999997 337.7)">D180</text>
<path d="M289.6,331.3 V334.7" stroke="#000" stroke-width="1.3"/>
<text x="292.5" y="337.7" font-size="8.6" text-anchor="end" stroke="#000" stroke-width="0.22" textLength="15.85" lengthAdjust="spacingAndGlyphs" transform="rotate(-90 292.5 337.7)">M12</text>
<path d="M307.5,331.3 V334.7" stroke="#000" stroke-width="1.3"/>
<text x="310.4" y="337.7" font-size="8.6" text-anchor="end" stroke="#000" stroke-width="0.22" textLength="15.85" lengthAdjust="spacingAndGlyphs" transform="rotate(-90 310.4 337.7)">M18</text>
<path d="M325.4,331.3 V334.7" stroke="#000" stroke-width="1.3"/>
<text x="328.29999999999995" y="337.7" font-size="8.6" text-anchor="end" stroke="#000" stroke-width="0.22" textLength="15.85" lengthAdjust="spacingAndGlyphs" transform="rotate(-90 328.29999999999995 337.7)">M24</text>
<path d="M218.0,323.6 V322.2" stroke="#000" stroke-width="1.25" stroke-dasharray="1.5,1.2"/>
<path d="M214.3,322.2 H221.7" stroke="#000" stroke-width="1.5"/>
<path d="M218.0,326.9 V328.9" stroke="#000" stroke-width="1.25" stroke-dasharray="1.5,1.2"/>
<path d="M214.3,328.9 H221.7" stroke="#000" stroke-width="1.5"/>
<rect x="210.6" y="323.6" width="14.8" height="3.2999999999999545" fill="#ae032b" stroke="#6e0419" stroke-width="0.8"/>
<path d="M210.6,325.2 H225.4" stroke="#3c000e" stroke-width="1.5"/>
<path d="M235.9,313.1 V310.3" stroke="#000" stroke-width="1.25" stroke-dasharray="1.5,1.2"/>
<path d="M232.20000000000002,310.3 H239.6" stroke="#000" stroke-width="1.5"/>
<path d="M235.9,322.8 V328.9" stroke="#000" stroke-width="1.25" stroke-dasharray="1.5,1.2"/>
<path d="M232.20000000000002,328.9 H239.6" stroke="#000" stroke-width="1.5"/>
<rect x="228.5" y="313.1" width="14.8" height="9.699999999999989" fill="#ae032b" stroke="#6e0419" stroke-width="0.8"/>
<path d="M228.5,321.4 H243.3" stroke="#3c000e" stroke-width="1.5"/>
<path d="M253.8,310.0 V309.0" stroke="#000" stroke-width="1.25" stroke-dasharray="1.5,1.2"/>
<path d="M250.10000000000002,309.0 H257.5" stroke="#000" stroke-width="1.5"/>
<path d="M253.8,314.1 V319.1" stroke="#000" stroke-width="1.25" stroke-dasharray="1.5,1.2"/>
<path d="M250.10000000000002,319.1 H257.5" stroke="#000" stroke-width="1.5"/>
<rect x="246.4" y="310.0" width="14.8" height="4.100000000000023" fill="#ae032b" stroke="#6e0419" stroke-width="0.8"/>
<path d="M246.4,311.6 H261.2" stroke="#3c000e" stroke-width="1.5"/>
<path d="M271.7,310.8 V307.1" stroke="#000" stroke-width="1.25" stroke-dasharray="1.5,1.2"/>
<path d="M268.0,307.1 H275.4" stroke="#000" stroke-width="1.5"/>
<rect x="264.3" y="310.8" width="14.8" height="5.0" fill="#ae032b" stroke="#6e0419" stroke-width="0.8"/>
<path d="M264.3,312.2 H279.09999999999997" stroke="#3c000e" stroke-width="1.5"/>
<path d="M289.6,306.8 V294.6" stroke="#000" stroke-width="1.25" stroke-dasharray="1.5,1.2"/>
<path d="M285.90000000000003,294.6 H293.3" stroke="#000" stroke-width="1.5"/>
<path d="M289.6,321.1 V328.9" stroke="#000" stroke-width="1.25" stroke-dasharray="1.5,1.2"/>
<path d="M285.90000000000003,328.9 H293.3" stroke="#000" stroke-width="1.5"/>
<rect x="282.20000000000005" y="306.8" width="14.8" height="14.300000000000011" fill="#ae032b" stroke="#6e0419" stroke-width="0.8"/>
<path d="M282.20000000000005,313.4 H297.0" stroke="#3c000e" stroke-width="1.5"/>
<path d="M307.5,310.0 V307.5" stroke="#000" stroke-width="1.25" stroke-dasharray="1.5,1.2"/>
<path d="M303.8,307.5 H311.2" stroke="#000" stroke-width="1.5"/>
<path d="M307.5,317.1 V324.2" stroke="#000" stroke-width="1.25" stroke-dasharray="1.5,1.2"/>
<path d="M303.8,324.2 H311.2" stroke="#000" stroke-width="1.5"/>
<rect x="300.1" y="310.0" width="14.8" height="7.100000000000023" fill="#ae032b" stroke="#6e0419" stroke-width="0.8"/>
<path d="M300.1,314.4 H314.9" stroke="#3c000e" stroke-width="1.5"/>
<path d="M325.4,305.8 V300.0" stroke="#000" stroke-width="1.25" stroke-dasharray="1.5,1.2"/>
<path d="M321.7,300.0 H329.09999999999997" stroke="#000" stroke-width="1.5"/>
<path d="M325.4,320.7 V328.9" stroke="#000" stroke-width="1.25" stroke-dasharray="1.5,1.2"/>
<path d="M321.7,328.9 H329.09999999999997" stroke="#000" stroke-width="1.5"/>
<rect x="318.0" y="305.8" width="14.8" height="14.899999999999977" fill="#ae032b" stroke="#6e0419" stroke-width="0.8"/>
<path d="M318.0,316.2 H332.79999999999995" stroke="#3c000e" stroke-width="1.5"/>
<rect x="235.0" y="296.8" width="1.8" height="1.8" fill="#000"/>
<rect x="252.9" y="293.70000000000005" width="1.8" height="1.8" fill="#000"/>
<rect x="252.9" y="265.8" width="1.8" height="1.8" fill="#000"/>
<rect x="252.9" y="321.1" width="1.8" height="1.8" fill="#000"/>
<rect x="270.8" y="293.1" width="1.8" height="1.8" fill="#000"/>
<rect x="270.8" y="298.1" width="1.8" height="1.8" fill="#000"/>
<rect x="270.8" y="325.1" width="1.8" height="1.8" fill="#000"/>
<rect x="270.8" y="327.1" width="1.8" height="1.8" fill="#000"/>
<path d="M203.9,305.8 H339.5" stroke="#000" stroke-width="1.3" stroke-dasharray="1.8,1.25"/>
<path d="M203.9,323.1 H339.5" stroke="#000" stroke-width="1.3" stroke-dasharray="1.8,1.25"/>
<text x="444.1" y="257.6" font-size="7.9" text-anchor="middle" font-weight="bold" fill="#111" stroke="#111" stroke-width="0.3" textLength="112.6" lengthAdjust="spacingAndGlyphs">CD3+CD56+ NK Lymphocytes</text>
<path d="M377.2,264.2 V331.3" fill="none" stroke="#000" stroke-width="1.5"/>
<path d="M376.5,331.3 H513.5" fill="none" stroke="#000" stroke-width="1.6"/>
<path d="M374.59999999999997,329.0 H377.2" stroke="#000" stroke-width="1.4"/>
<text x="369.4" y="326.3" font-size="8.5" text-anchor="middle" fill="#111" stroke="#111" stroke-width="0.22" textLength="4.0" lengthAdjust="spacingAndGlyphs" transform="rotate(-90 369.4 326.3)">0</text>
<path d="M374.59999999999997,315.9 H377.2" stroke="#000" stroke-width="1.4"/>
<text x="369.4" y="317.3" font-size="8.5" text-anchor="middle" fill="#111" stroke="#111" stroke-width="0.22" textLength="12.0" lengthAdjust="spacingAndGlyphs" transform="rotate(-90 369.4 317.3)">100</text>
<path d="M374.59999999999997,302.7 H377.2" stroke="#000" stroke-width="1.4"/>
<text x="369.4" y="302.7" font-size="8.5" text-anchor="middle" fill="#111" stroke="#111" stroke-width="0.22" textLength="12.0" lengthAdjust="spacingAndGlyphs" transform="rotate(-90 369.4 302.7)">200</text>
<path d="M374.59999999999997,289.4 H377.2" stroke="#000" stroke-width="1.4"/>
<text x="369.4" y="287.5" font-size="8.5" text-anchor="middle" fill="#111" stroke="#111" stroke-width="0.22" textLength="12.0" lengthAdjust="spacingAndGlyphs" transform="rotate(-90 369.4 287.5)">300</text>
<path d="M374.59999999999997,275.9 H377.2" stroke="#000" stroke-width="1.4"/>
<text x="369.4" y="272.0" font-size="8.5" text-anchor="middle" fill="#111" stroke="#111" stroke-width="0.22" textLength="12.0" lengthAdjust="spacingAndGlyphs" transform="rotate(-90 369.4 272.0)">400</text>
<text x="357.2" y="298.0" font-size="8.4" text-anchor="middle" font-style="italic" fill="#333" stroke="#333" stroke-width="0.22" textLength="25.2" lengthAdjust="spacingAndGlyphs" transform="rotate(-90 357.2 298.0)">/microL</text>
<path d="M391.2,331.3 V334.7" stroke="#000" stroke-width="1.3"/>
<text x="394.09999999999997" y="337.7" font-size="8.6" text-anchor="end" stroke="#000" stroke-width="0.22" textLength="14.95" lengthAdjust="spacingAndGlyphs" transform="rotate(-90 394.09999999999997 337.7)">D45</text>
<path d="M409.09999999999997,331.3 V334.7" stroke="#000" stroke-width="1.3"/>
<text x="411.99999999999994" y="337.7" font-size="8.6" text-anchor="end" stroke="#000" stroke-width="0.22" textLength="14.95" lengthAdjust="spacingAndGlyphs" transform="rotate(-90 411.99999999999994 337.7)">D60</text>
<path d="M427.0,331.3 V334.7" stroke="#000" stroke-width="1.3"/>
<text x="429.9" y="337.7" font-size="8.6" text-anchor="end" stroke="#000" stroke-width="0.22" textLength="19.48" lengthAdjust="spacingAndGlyphs" transform="rotate(-90 429.9 337.7)">D100</text>
<path d="M444.9,331.3 V334.7" stroke="#000" stroke-width="1.3"/>
<text x="447.79999999999995" y="337.7" font-size="8.6" text-anchor="end" stroke="#000" stroke-width="0.22" textLength="19.48" lengthAdjust="spacingAndGlyphs" transform="rotate(-90 447.79999999999995 337.7)">D180</text>
<path d="M462.79999999999995,331.3 V334.7" stroke="#000" stroke-width="1.3"/>
<text x="465.69999999999993" y="337.7" font-size="8.6" text-anchor="end" stroke="#000" stroke-width="0.22" textLength="15.85" lengthAdjust="spacingAndGlyphs" transform="rotate(-90 465.69999999999993 337.7)">M12</text>
<path d="M480.7,331.3 V334.7" stroke="#000" stroke-width="1.3"/>
<text x="483.59999999999997" y="337.7" font-size="8.6" text-anchor="end" stroke="#000" stroke-width="0.22" textLength="15.85" lengthAdjust="spacingAndGlyphs" transform="rotate(-90 483.59999999999997 337.7)">M18</text>
<path d="M498.59999999999997,331.3 V334.7" stroke="#000" stroke-width="1.3"/>
<text x="501.49999999999994" y="337.7" font-size="8.6" text-anchor="end" stroke="#000" stroke-width="0.22" textLength="15.85" lengthAdjust="spacingAndGlyphs" transform="rotate(-90 501.49999999999994 337.7)">M24</text>
<path d="M383.8,283.7 H398.59999999999997" stroke="#000" stroke-width="1.6"/>
<path d="M401.7,328.7 H416.49999999999994" stroke="#000" stroke-width="1.6"/>
<path d="M427.0,318.4 V307.9" stroke="#000" stroke-width="1.25" stroke-dasharray="1.5,1.2"/>
<path d="M423.3,307.9 H430.7" stroke="#000" stroke-width="1.5"/>
<rect x="419.6" y="318.4" width="14.8" height="10.300000000000011" fill="#ae032b" stroke="#6e0419" stroke-width="0.8"/>
<path d="M419.6,328.7 H434.4" stroke="#3c000e" stroke-width="1.5"/>
<rect x="437.5" y="326.9" width="14.8" height="2.2000000000000455" fill="#ae032b" stroke="#6e0419" stroke-width="0.8"/>
<path d="M437.5,328.4 H452.29999999999995" stroke="#3c000e" stroke-width="1.5"/>
<path d="M462.79999999999995,313.9 V307.9" stroke="#000" stroke-width="1.25" stroke-dasharray="1.5,1.2"/>
<path d="M459.09999999999997,307.9 H466.49999999999994" stroke="#000" stroke-width="1.5"/>
<rect x="455.4" y="313.9" width="14.8" height="14.0" fill="#ae032b" stroke="#6e0419" stroke-width="0.8"/>
<path d="M455.4,323.8 H470.19999999999993" stroke="#3c000e" stroke-width="1.5"/>
<path d="M498.59999999999997,292.8 V266.2" stroke="#000" stroke-width="1.25" stroke-dasharray="1.5,1.2"/>
<path d="M494.9,266.2 H502.29999999999995" stroke="#000" stroke-width="1.5"/>
<path d="M498.59999999999997,326.8 V328.3" stroke="#000" stroke-width="1.25" stroke-dasharray="1.5,1.2"/>
<path d="M494.9,328.3 H502.29999999999995" stroke="#000" stroke-width="1.5"/>
<rect x="491.2" y="292.8" width="14.8" height="34.0" fill="#ae032b" stroke="#6e0419" stroke-width="0.8"/>
<path d="M491.2,322.7 H505.99999999999994" stroke="#3c000e" stroke-width="1.5"/>
<rect x="444.0" y="323.20000000000005" width="1.8" height="1.8" fill="#000"/>
<path d="M377.2,316.0 H513.5" stroke="#000" stroke-width="1.3" stroke-dasharray="1.8,1.25"/>
<path d="M377.2,329.2 H513.5" stroke="#000" stroke-width="1.3" stroke-dasharray="1.8,1.25"/>
<rect x="0.5" y="0.5" width="518.5" height="362.5" fill="none" stroke="#000" stroke-width="1"/>
<path d="M519,0 V364 M0,363 H520" stroke="#000" stroke-width="2"/>
</svg>
</body></html>
